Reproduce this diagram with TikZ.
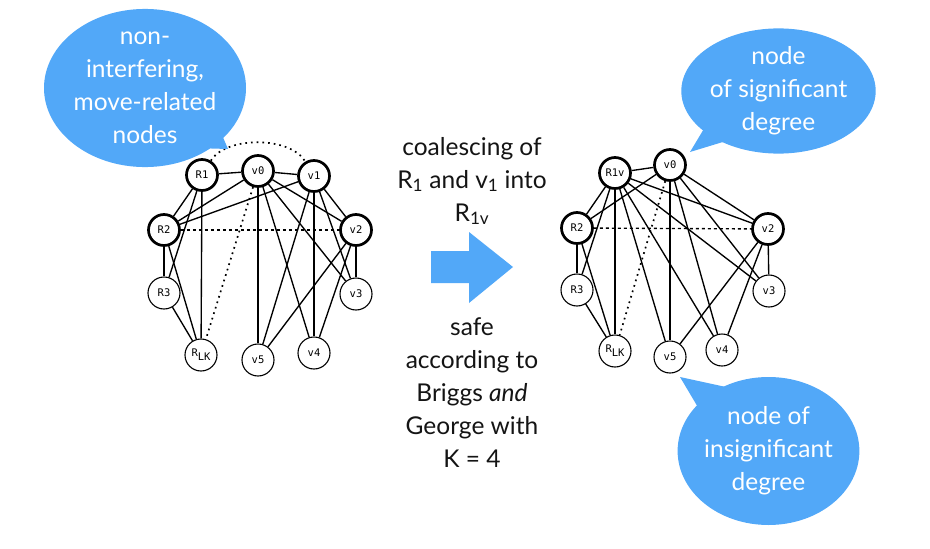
\documentclass[tikz,border=0pt]{standalone}
\usepackage{fontspec}
\setmainfont{Lato}
\newfontfamily\monof{DejaVu Sans Mono}
\usetikzlibrary{shapes.geometric}
\definecolor{callblue}{RGB}{82,168,248}
\begin{document}
\begin{tikzpicture}[x=1pt,y=-1pt,
 gnode/.style={circle,draw=black,fill=white,line width=1.1pt,minimum size=32pt,inner sep=0pt,font=\monof\fontsize{10.5}{12}\selectfont},
 hot/.style={gnode,line width=2.7pt,minimum size=31pt},
 edge/.style={line width=1.35pt},
 dashe/.style={line width=1.35pt,dash pattern=on 3pt off 3pt},
 dote/.style={line width=1.7pt,dash pattern=on 1.7pt off 4pt},
 callout/.style={ellipse,fill=callblue,text=white,inner sep=0pt,align=center,font=\fontsize{24.5}{33}\selectfont},
 txt/.style={align=center,font=\fontsize{24.5}{33}\selectfont,text=black!92}]
\useasboundingbox (0,0) rectangle (930,549);

% ---------- left graph ----------
\node[hot]   (lR1) at (202,175) {R1};
\node[hot]   (lv0) at (258,171) {v0};
\node[hot]   (lv1) at (314,176) {v1};
\node[hot]   (lR2) at (164,230) {R2};
\node[hot]   (lv2) at (356,230) {v2};
\node[gnode] (lR3) at (164,293) {R3};
\node[gnode] (lv3) at (356,294) {v3};
\node[gnode] (lRLK) at (201,355) {R\raisebox{-4pt}{LK}};
\node[gnode] (lv5) at (258,360) {v5};
\node[gnode] (lv4) at (314,353) {v4};

\foreach \a/\b in {lR1/lv0,lv0/lv1,lR1/lR2,lR1/lR3,lR1/lRLK,
  lv0/lR2,lv0/lv5,lv0/lv4,lv0/lv3,lv0/lv2,
  lv1/lR2,lv1/lv2,lv1/lv3,lv1/lv4,lv1/lv5,
  lR2/lR3,lR2/lRLK,lR3/lRLK,lv2/lv3,lv2/lv4,lv2/lv5}
  \draw[edge] (\a) -- (\b);
\draw[dashe] (lR2) -- (lv2);
\draw[dote] (lv0) -- (lRLK);
\draw[dote] (lR1) .. controls (226,136) and (290,136) .. (lv1);

% ---------- right graph ----------
\node[hot]   (rR1v) at (615,173) {R1v};
\node[hot]   (rv0) at (670,165) {v0};
\node[hot]   (rR2) at (577,228) {R2};
\node[hot]   (rv2) at (768,229) {v2};
\node[gnode] (rR3) at (577,290) {R3};
\node[gnode] (rv3) at (769,291) {v3};
\node[gnode] (rRLK) at (615,351) {R\raisebox{-4pt}{LK}};
\node[gnode] (rv5) at (670,357) {v5};
\node[gnode] (rv4) at (722,350) {v4};

\foreach \a/\b in {rR1v/rv0,rR1v/rR2,rR1v/rR3,rR1v/rRLK,rR1v/rv5,rR1v/rv4,rR1v/rv3,rR1v/rv2,
  rv0/rR2,rv0/rv5,rv0/rv4,rv0/rv3,rv0/rv2,
  rR2/rR3,rR2/rRLK,rR3/rRLK,rv2/rv3,rv2/rv5,rv2/rv4}
  \draw[edge] (\a) -- (\b);
\draw[dashe] (rR2) -- (rv2);
\draw[dote] (rv0) -- (rRLK);

% ---------- middle ----------
\node[txt] (top) at (472,181) {coalescing of\\R\textsubscript{1} and v\textsubscript{1} into\\R\textsubscript{1v}};
\fill[callblue] (431,251) -- (469,251) -- (469,232) -- (513,267) -- (469,303) -- (469,283) -- (431,283) -- cycle;
\node[txt] (bot) at (472,393) {safe\\according to\\Briggs \textit{and}\\George with\\K = 4};

% ---------- callouts ----------
\fill[callblue] (219,128) -- (228,149) -- (195,148) -- cycle;
\node[callout,minimum width=202pt,minimum height=138pt] (c1) at (145,88) {non-\\interfering,\\move-related\\nodes};

\fill[callblue] (708,122) -- (690,152) -- (736,138) -- cycle;
\node[callout,minimum width=171pt,minimum height=108pt] (c2) at (778.5,91) {node\\of significant\\degree};

\fill[callblue] (699,409) -- (680,377) -- (726,387) -- cycle;
\node[callout,minimum width=169pt,minimum height=148pt] (c3) at (768.5,451) {node of\\insignificant\\degree};
\end{tikzpicture}
\end{document}
